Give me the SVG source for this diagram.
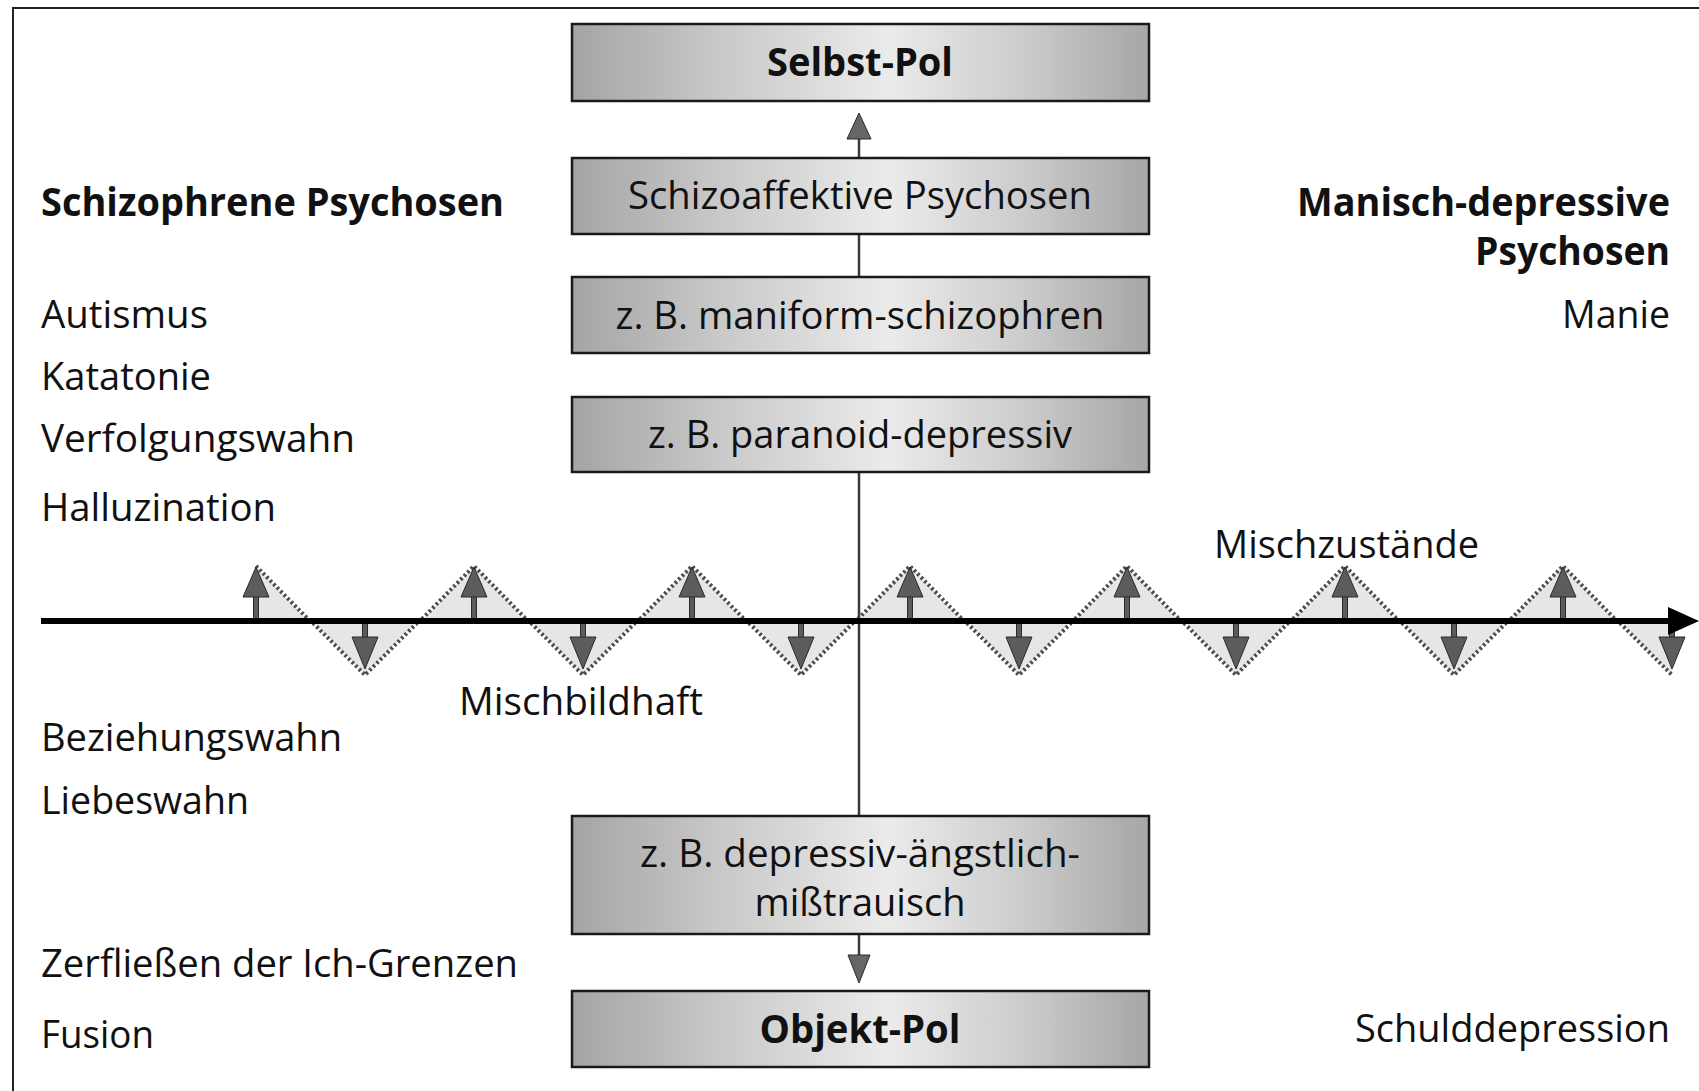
<svg xmlns="http://www.w3.org/2000/svg" width="1699" height="1091" viewBox="0 0 1699 1091">
<defs>
<linearGradient id="boxfill" x1="0" y1="0" x2="1" y2="0">
<stop offset="0" stop-color="#a4a4a4"/>
<stop offset="0.25" stop-color="#c8c8c8"/>
<stop offset="0.55" stop-color="#ebebeb"/>
<stop offset="0.78" stop-color="#cccccc"/>
<stop offset="1" stop-color="#a6a6a6"/>
</linearGradient>
<g id="ua"><rect x="-2.5" y="-28" width="5" height="28"/><polygon points="0,-54 -13,-24 13,-24"/></g>
<g id="da"><rect x="-2.5" y="0" width="5" height="20"/><polygon points="-13,16 13,16 0,48"/></g>
</defs>
<style>
.box{stroke:#1a1a1a;stroke-width:2.5;fill:url(#boxfill)}
.t{font-family:"Open Sans","Noto Sans","Liberation Sans",sans-serif;font-size:39px;fill:#111}
.b{font-weight:700}
.c{text-anchor:middle}
.e{text-anchor:end}
.tri{fill:#e6e6e6}
.dots{fill:none;stroke:#4d4d4d;stroke-width:4;stroke-dasharray:2.5 2.5}
.arrow{fill:#5c5c5c;stroke:#2a2a2a;stroke-width:1}
.vline{stroke:#3a3a3a;stroke-width:2.5;fill:none}
.head{fill:#666;stroke:#2a2a2a;stroke-width:1}
</style>
<rect width="1699" height="1091" fill="#fff"/>
<path d="M13,1091 V8 H1699" fill="none" stroke="#222" stroke-width="2"/>

<g id="zigzag">
<polygon class="tri" points="256,621 256,566 308,621"/>
<polygon class="tri" points="422,621 474,566 526,621"/>
<polygon class="tri" points="640,621 692,566 744,621"/>
<polygon class="tri" points="858,621 910,566 962,621"/>
<polygon class="tri" points="1075,621 1127,566 1179,621"/>
<polygon class="tri" points="1293,621 1345,566 1397,621"/>
<polygon class="tri" points="1511,621 1563,566 1615,621"/>
<polygon class="tri" points="313,621 365,675 417,621"/>
<polygon class="tri" points="531,621 583,675 635,621"/>
<polygon class="tri" points="749,621 801,675 853,621"/>
<polygon class="tri" points="967,621 1019,675 1071,621"/>
<polygon class="tri" points="1184,621 1236,675 1288,621"/>
<polygon class="tri" points="1402,621 1454,675 1506,621"/>
<polygon class="tri" points="1620,621 1672,675 1672,621"/>
<path class="dots" d="M256,566 L308,619 M422,619 L474,566 L526,619 M640,619 L692,566 L744,619 M858,619 L910,566 L962,619 M1075,619 L1127,566 L1179,619 M1293,619 L1345,566 L1397,619 M1511,619 L1563,566 L1615,619 M313,623 L365,675 L417,623 M531,623 L583,675 L635,623 M749,623 L801,675 L853,623 M967,623 L1019,675 L1071,623 M1184,623 L1236,675 L1288,623 M1402,623 L1454,675 L1506,623 M1620,623 L1672,675"/>
<g class="arrow">
<use href="#ua" transform="translate(256,621)"/>
<use href="#ua" transform="translate(474,621)"/>
<use href="#ua" transform="translate(692,621)"/>
<use href="#ua" transform="translate(910,621)"/>
<use href="#ua" transform="translate(1127,621)"/>
<use href="#ua" transform="translate(1345,621)"/>
<use href="#ua" transform="translate(1563,621)"/>
<use href="#da" transform="translate(365,621)"/>
<use href="#da" transform="translate(583,621)"/>
<use href="#da" transform="translate(801,621)"/>
<use href="#da" transform="translate(1019,621)"/>
<use href="#da" transform="translate(1236,621)"/>
<use href="#da" transform="translate(1454,621)"/>
<use href="#da" transform="translate(1672,621)"/>
</g>
</g>

<g id="connectors">
<line class="vline" x1="859" y1="158" x2="859" y2="136"/>
<polygon class="head" points="859,113 847,139 871,139"/>
<line class="vline" x1="859" y1="277" x2="859" y2="234"/>
<line class="vline" x1="859" y1="397" x2="859" y2="472"/>
<line class="vline" x1="859" y1="472" x2="859" y2="816"/>
<line class="vline" x1="859" y1="934" x2="859" y2="958"/>
<polygon class="head" points="848,955 870,955 859,983"/>
<line x1="41" y1="621" x2="1672" y2="621" stroke="#000" stroke-width="6"/>
<polygon points="1668,607 1699,621 1668,635" fill="#000"/>
</g>

<g id="selbst-pol"><rect class="box" x="572" y="24" width="577" height="77"/><text class="t b c" x="860" y="76" textLength="186" lengthAdjust="spacingAndGlyphs">Selbst-Pol</text></g>
<g id="schizoaffektive"><rect class="box" x="572" y="158" width="577" height="76"/><text class="t c" x="860" y="209" textLength="464" lengthAdjust="spacingAndGlyphs">Schizoaffektive Psychosen</text></g>
<g id="maniform"><rect class="box" x="572" y="277" width="577" height="76"/><text class="t c" x="860" y="329" textLength="489" lengthAdjust="spacingAndGlyphs">z. B. maniform-schizophren</text></g>
<g id="paranoid"><rect class="box" x="572" y="397" width="577" height="75"/><text class="t c" x="860" y="448" textLength="424" lengthAdjust="spacingAndGlyphs">z. B. paranoid-depressiv</text></g>
<g id="depressiv"><rect class="box" x="572" y="816" width="577" height="118"/><text class="t c" x="860" y="867" textLength="440" lengthAdjust="spacingAndGlyphs">z. B. depressiv-ängstlich-</text><text class="t c" x="860" y="916" textLength="211" lengthAdjust="spacingAndGlyphs">mißtrauisch</text></g>
<g id="objekt-pol"><rect class="box" x="572" y="991" width="577" height="76"/><text class="t b c" x="860" y="1043" textLength="201" lengthAdjust="spacingAndGlyphs">Objekt-Pol</text></g>

<g id="left-labels">
<text class="t b" x="41" y="216" textLength="463" lengthAdjust="spacingAndGlyphs">Schizophrene Psychosen</text>
<text class="t" x="41" y="328" textLength="167" lengthAdjust="spacingAndGlyphs">Autismus</text>
<text class="t" x="41" y="390" textLength="170" lengthAdjust="spacingAndGlyphs">Katatonie</text>
<text class="t" x="41" y="452" textLength="314" lengthAdjust="spacingAndGlyphs">Verfolgungswahn</text>
<text class="t" x="41" y="521" textLength="235" lengthAdjust="spacingAndGlyphs">Halluzination</text>
<text class="t" x="41" y="751" textLength="301" lengthAdjust="spacingAndGlyphs">Beziehungswahn</text>
<text class="t" x="41" y="814" textLength="208" lengthAdjust="spacingAndGlyphs">Liebeswahn</text>
<text class="t" x="41" y="977" textLength="477" lengthAdjust="spacingAndGlyphs">Zerfließen der Ich-Grenzen</text>
<text class="t" x="41" y="1048" textLength="113" lengthAdjust="spacingAndGlyphs">Fusion</text>
</g>
<g id="right-labels">
<text class="t b e" x="1670" y="216" textLength="373" lengthAdjust="spacingAndGlyphs">Manisch-depressive</text>
<text class="t b e" x="1670" y="265" textLength="195" lengthAdjust="spacingAndGlyphs">Psychosen</text>
<text class="t e" x="1670" y="328" textLength="108" lengthAdjust="spacingAndGlyphs">Manie</text>
<text class="t e" x="1670" y="1042" textLength="315" lengthAdjust="spacingAndGlyphs">Schulddepression</text>
</g>
<g id="mid-labels">
<text class="t" x="1214" y="558" textLength="265" lengthAdjust="spacingAndGlyphs">Mischzustände</text>
<text class="t" x="459" y="715" textLength="244" lengthAdjust="spacingAndGlyphs">Mischbildhaft</text>
</g>
</svg>
